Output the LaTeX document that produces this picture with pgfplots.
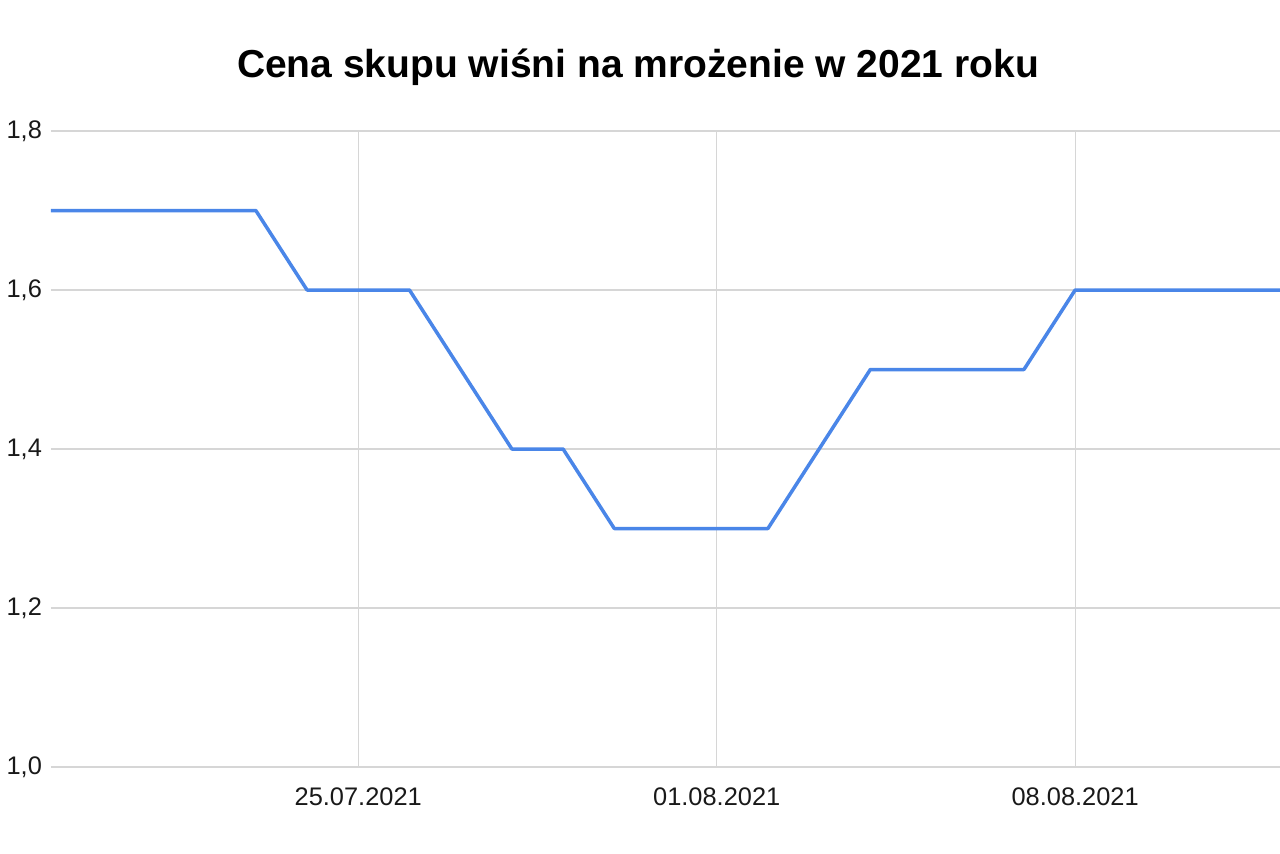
\documentclass[border=0pt]{standalone}
\usepackage{fontspec}
\setmainfont{Liberation Sans}
\usepackage{pgfplots}
\pgfplotsset{compat=1.18}
\definecolor{lineblue}{HTML}{4A86E8}
\definecolor{gridgray}{HTML}{D6D6D6}

% days counted from 19.07.2021
\pgfplotstableread{
day price
0  1.7
4  1.7
5  1.6
7  1.6
9  1.4
10 1.4
11 1.3
14 1.3
16 1.5
19 1.5
20 1.6
24 1.6
}\cena

\begin{document}
\begin{tikzpicture}
\begin{axis}[
  at={(25.5pt,43pt)}, anchor=south west,
  scale only axis,
  width=614.5pt, height=318pt,
  xmin=0, xmax=24, ymin=1.0, ymax=1.8,
  xtick={6,13,20},
  xticklabels={25.07.2021, 01.08.2021, 08.08.2021},
  ytick={1.0,1.2,1.4,1.6,1.8},
  yticklabel style={/pgf/number format/use comma, /pgf/number format/fixed,
    /pgf/number format/fixed zerofill, /pgf/number format/precision=1, xshift=-1pt},
  /pgf/number format/assume math mode=true,
  tick label style={font=\fontsize{12.7}{14}\selectfont, text=black!90},
  xticklabel style={yshift=-7pt},
  major tick length=0pt,
  axis line style={draw=none},
  grid=major,
  grid style={gridgray, line width=0.6pt},
  clip=false,
]
\addplot[lineblue, line width=1.75pt, line join=round] table[x=day, y=price] {\cena};
\end{axis}
\node[font=\fontsize{19.5}{22}\selectfont\bfseries] at (319pt,393pt) {Cena skupu wiśni na mrożenie w 2021 roku};
\pgfresetboundingbox
\path[use as bounding box] (0,0) rectangle (640pt,426.5pt);
\end{tikzpicture}
\end{document}
